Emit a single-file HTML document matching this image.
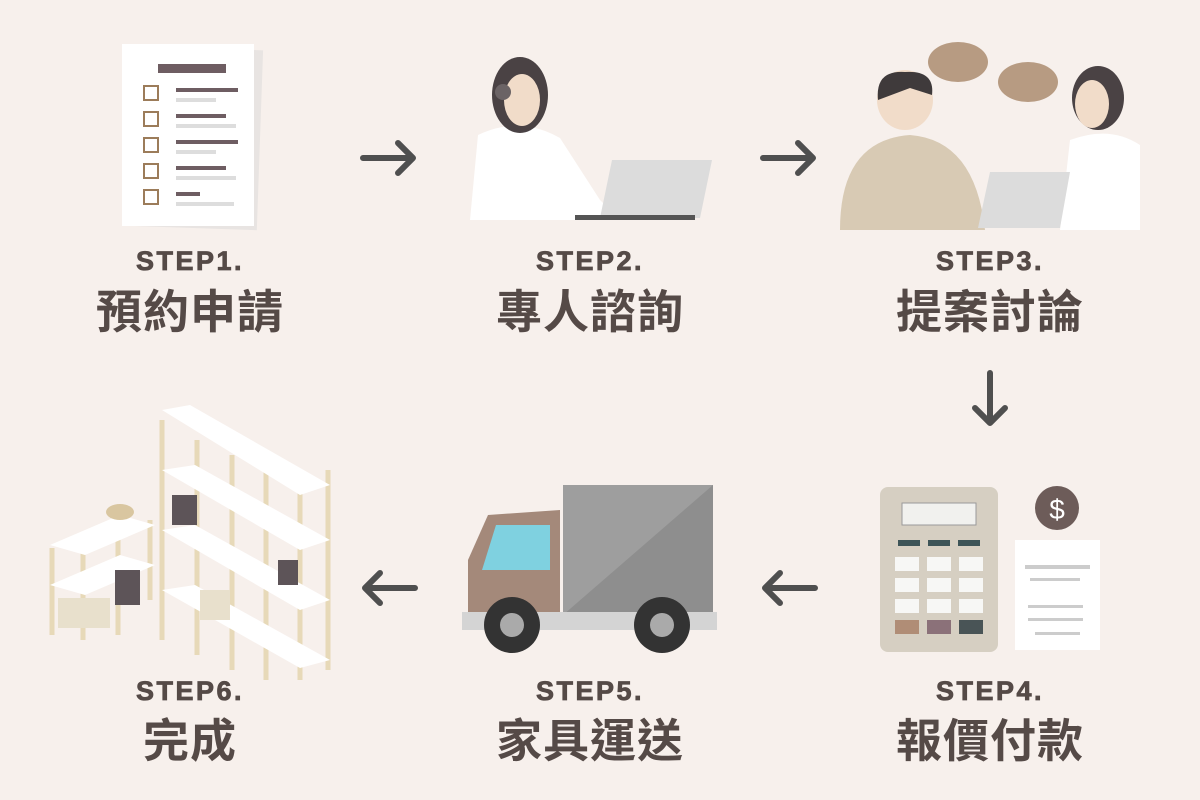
<!DOCTYPE html>
<html><head><meta charset="utf-8"><style>
body{margin:0;width:1200px;height:800px;background:#f7f0ec;overflow:hidden;position:relative;font-family:"Liberation Sans","Noto Sans CJK TC",sans-serif;color:#554a47}
.s{position:absolute;width:300px;text-align:center;font-weight:bold;font-size:27px;line-height:26px;letter-spacing:2.5px;-webkit-text-stroke:0.8px #554a47}
.c{position:absolute;width:300px;text-align:center;font-weight:bold;font-size:46px;line-height:50px;font-family:"Noto Sans CJK TC",sans-serif;letter-spacing:1px}
svg{position:absolute;left:0;top:0}
</style></head><body>
<svg width="1200" height="800">
<g stroke="#4f4f4f" stroke-width="6" fill="none" stroke-linecap="round" stroke-linejoin="round">
<path d="M363 158H413M398 143L413 158L398 173"/>
<path d="M763 158H813M798 143L813 158L798 173"/>
<path d="M990 373V423M975 408L990 423L1005 408"/>
<path d="M815 588H765M780 573L765 588L780 603"/>
<path d="M415 588H365M380 573L365 588L380 603"/>
</g>
<rect x="128" y="48" width="132" height="180" fill="#e8e4e2" transform="rotate(2 194 138)"/>
<rect x="122" y="44" width="132" height="182" fill="#fff"/>
<rect x="158" y="64" width="68" height="9" fill="#6e5d62"/>
<g fill="none" stroke="#9c7c5a" stroke-width="2"><rect x="144" y="86" width="14" height="14"/><rect x="144" y="112" width="14" height="14"/><rect x="144" y="138" width="14" height="14"/><rect x="144" y="164" width="14" height="14"/><rect x="144" y="190" width="14" height="14"/></g>
<g fill="#6e5d62"><rect x="176" y="88" width="62" height="4"/><rect x="176" y="114" width="50" height="4"/><rect x="176" y="140" width="62" height="4"/><rect x="176" y="166" width="50" height="4"/><rect x="176" y="192" width="24" height="4"/></g>
<g fill="#ddd"><rect x="176" y="98" width="40" height="4"/><rect x="176" y="124" width="60" height="4"/><rect x="176" y="150" width="40" height="4"/><rect x="176" y="176" width="60" height="4"/><rect x="176" y="202" width="58" height="4"/></g>
<path d="M470 220 L478 135 Q520 115 560 138 L600 200 L620 220Z" fill="#fff"/>
<ellipse cx="520" cy="95" rx="28" ry="38" fill="#4a4244"/>
<ellipse cx="522" cy="100" rx="18" ry="26" fill="#f1dcc9"/>
<circle cx="503" cy="92" r="8" fill="#6b6365"/>
<path d="M612 160 L712 160 L700 218 L600 218Z" fill="#dcdcdc"/>
<rect x="575" y="215" width="120" height="5" fill="#555"/>
<ellipse cx="958" cy="62" rx="30" ry="20" fill="#b79b82"/>
<ellipse cx="1028" cy="82" rx="30" ry="20" fill="#b79b82"/>
<path d="M840 230 Q840 140 910 135 Q975 140 985 230Z" fill="#d8cab4"/>
<ellipse cx="905" cy="100" rx="28" ry="30" fill="#f1dcc9"/>
<path d="M878 100 Q875 70 905 72 Q935 70 932 95 L910 88Z" fill="#3f3a3b"/>
<path d="M1060 230 L1070 140 Q1110 125 1140 145 L1140 230Z" fill="#fff"/>
<ellipse cx="1098" cy="98" rx="26" ry="32" fill="#4a4244"/>
<ellipse cx="1092" cy="104" rx="17" ry="24" fill="#f1dcc9"/>
<path d="M990 172 L1070 172 L1060 228 L978 228Z" fill="#dcdcdc"/>
<rect x="880" y="487" width="118" height="165" rx="8" fill="#d6cfc2"/>
<rect x="902" y="503" width="74" height="22" fill="#f1f1ee" stroke="#999"/>
<g fill="#3d5457"><rect x="898" y="540" width="22" height="6"/><rect x="928" y="540" width="22" height="6"/><rect x="958" y="540" width="22" height="6"/></g>
<g fill="#f7f7f5"><rect x="895" y="557" width="24" height="14"/><rect x="927" y="557" width="24" height="14"/><rect x="959" y="557" width="24" height="14"/><rect x="895" y="578" width="24" height="14"/><rect x="927" y="578" width="24" height="14"/><rect x="959" y="578" width="24" height="14"/><rect x="895" y="599" width="24" height="14"/><rect x="927" y="599" width="24" height="14"/><rect x="959" y="599" width="24" height="14"/></g>
<rect x="895" y="620" width="24" height="14" fill="#b08d76"/><rect x="927" y="620" width="24" height="14" fill="#8b7179"/><rect x="959" y="620" width="24" height="14" fill="#495456"/>
<rect x="1015" y="540" width="85" height="110" fill="#fff"/>
<g fill="#ccc"><rect x="1025" y="565" width="65" height="4"/><rect x="1030" y="578" width="50" height="3"/><rect x="1028" y="605" width="55" height="3"/><rect x="1028" y="618" width="55" height="3"/><rect x="1035" y="632" width="45" height="3"/></g>
<circle cx="1057" cy="508" r="22" fill="#6d5c59"/>
<text x="1057" y="519" text-anchor="middle" fill="#fff" font-size="28" font-family="Liberation Sans">$</text>
<rect x="563" y="485" width="150" height="130" fill="#8e8e8e"/>
<path d="M563 485 L713 485 L563 615Z" fill="#9e9e9e"/>
<path d="M468 615 L468 560 L488 515 L560 510 L560 615Z" fill="#a4897a"/>
<path d="M482 570 L496 525 L550 525 L550 570Z" fill="#7fd1e0"/>
<rect x="462" y="612" width="255" height="18" fill="#d4d4d4"/>
<circle cx="512" cy="625" r="28" fill="#333"/><circle cx="512" cy="625" r="12" fill="#aaa"/>
<circle cx="662" cy="625" r="28" fill="#333"/><circle cx="662" cy="625" r="12" fill="#aaa"/>
<g stroke="#e7d9b8" stroke-width="5" fill="none">
<path d="M162 420 V640 M197 440 V655 M232 455 V670 M266 470 V680 M300 488 V680 M328 470 V670"/>
<path d="M52 548 V635 M83 535 V640 M118 525 V635 M150 520 V600"/>
</g>
<g fill="#fff">
<path d="M162 410 L190 405 L330 485 L300 495Z"/>
<path d="M162 470 L195 465 L330 540 L300 550Z"/>
<path d="M162 530 L195 525 L330 600 L300 610Z"/>
<path d="M162 590 L195 585 L330 660 L300 668Z"/>
<path d="M50 545 L120 515 L155 525 L85 555Z"/>
<path d="M50 585 L120 555 L155 565 L85 595Z"/>
</g>
<rect x="58" y="598" width="52" height="30" fill="#e8e0cc"/>
<rect x="200" y="590" width="30" height="30" fill="#e8e0cc"/>
<rect x="115" y="570" width="25" height="35" fill="#5d5458"/>
<rect x="172" y="495" width="25" height="30" fill="#5d5458"/>
<rect x="278" y="560" width="20" height="25" fill="#5d5458"/>
<ellipse cx="120" cy="512" rx="14" ry="8" fill="#d9c6a0"/>
</svg>
<div class="s" style="left:40px;top:248px">STEP1.</div><div class="c" style="left:40px;top:284px">預約申請</div>
<div class="s" style="left:440px;top:248px">STEP2.</div><div class="c" style="left:440px;top:284px">專人諮詢</div>
<div class="s" style="left:840px;top:248px">STEP3.</div><div class="c" style="left:840px;top:284px">提案討論</div>
<div class="s" style="left:40px;top:678px">STEP6.</div><div class="c" style="left:40px;top:713px">完成</div>
<div class="s" style="left:440px;top:678px">STEP5.</div><div class="c" style="left:440px;top:713px">家具運送</div>
<div class="s" style="left:840px;top:678px">STEP4.</div><div class="c" style="left:840px;top:713px">報價付款</div>
</body></html>
